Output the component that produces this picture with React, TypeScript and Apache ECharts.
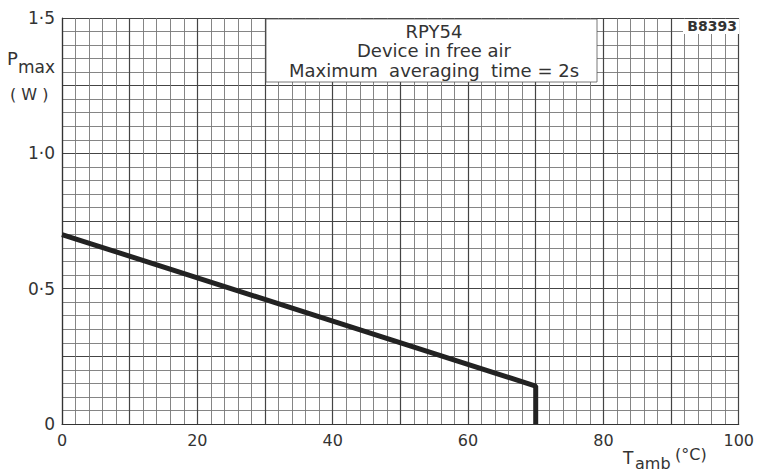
import React, { useEffect, useRef } from "react";
import * as echarts from "echarts";

const lineX = [0, 70, 70];
const lineY = [0.7, 0.14, 0];
const yTickLabels: Record<string, string> = { "0": "0", "0.5": "0·5", "1": "1·0", "1.5": "1·5" };
const titleLines = ["RPY54", "Device in free air", "Maximum  averaging  time = 2s"];
const figCode = "B8393";

const FONT = "DejaVu Sans";

export default function App() {
  const ref = useRef<HTMLDivElement>(null);
  useEffect(() => {
    const chart = echarts.init(ref.current!, null, { renderer: "svg" });
    const data = lineX.map((x, i) => [x, lineY[i]]);
    chart.setOption({
      animation: false,
      backgroundColor: "#fff",
      grid: { left: 62, right: 18, top: 18, bottom: 48 },
      xAxis: {
        type: "value",
        min: 0,
        max: 100,
        interval: 10,
        axisLine: { show: true, onZero: false, lineStyle: { color: "#333", width: 1.2 } },
        axisTick: { show: false },
        axisLabel: {
          color: "#333",
          fontFamily: FONT,
          fontSize: 16,
          margin: 8,
          formatter: (v: number) => (v % 20 === 0 ? String(v) : ""),
        },
        splitLine: { show: true, lineStyle: { color: "#444", width: 1.2 } },
        minorTick: { show: false, splitNumber: 5 },
        minorSplitLine: { show: true, lineStyle: { color: "#777", width: 0.9 } },
      },
      yAxis: {
        type: "value",
        min: 0,
        max: 1.5,
        interval: 0.25,
        axisLine: { show: true, onZero: false, lineStyle: { color: "#333", width: 1.2 } },
        axisTick: { show: false },
        axisLabel: {
          color: "#333",
          fontFamily: FONT,
          fontSize: 17,
          margin: 7,
          formatter: (v: number) => yTickLabels[String(v)] ?? "",
        },
        splitLine: { show: true, lineStyle: { color: "#444", width: 1.2 } },
        minorTick: { show: false, splitNumber: 5 },
        minorSplitLine: { show: true, lineStyle: { color: "#777", width: 0.9 } },
      },
      series: [
        {
          type: "line",
          data,
          showSymbol: false,
          symbol: "none",
          lineStyle: { color: "#222", width: 5 },
          z: 5,
        },
      ],
      graphic: [
        {
          type: "rect",
          z: 100,
          shape: { x: 266, y: 19, width: 331, height: 63 },
          style: { fill: "#fff", stroke: "#555", lineWidth: 0.8 },
        },
        ...titleLines.map((t, i) => ({
          type: "text",
          z: 101,
          x: 434,
          y: 31 + i * 19.5,
          style: {
            text: t,
            fill: "#333",
            font: `18px "${FONT}"`,
            textAlign: "center",
            textVerticalAlign: "middle",
          },
        })),
        {
          type: "rect",
          z: 100,
          shape: { x: 683, y: 19, width: 56, height: 15 },
          style: { fill: "#fff" },
        },
        {
          type: "text",
          z: 101,
          x: 737,
          y: 26,
          style: {
            text: figCode,
            fill: "#333",
            font: `bold 14px "${FONT}"`,
            textAlign: "right",
            textVerticalAlign: "middle",
          },
        },
        {
          type: "text",
          x: 7,
          y: 58,
          style: { text: "P", fill: "#333", font: `18px "${FONT}"`, textVerticalAlign: "middle" },
        },
        {
          type: "text",
          x: 18,
          y: 67,
          style: { text: "max", fill: "#333", font: `17px "${FONT}"`, textVerticalAlign: "middle" },
        },
        {
          type: "text",
          x: 10,
          y: 94,
          style: { text: "( W )", fill: "#333", font: `16px "${FONT}"`, textVerticalAlign: "middle" },
        },
        {
          type: "text",
          x: 623,
          y: 458,
          style: { text: "T", fill: "#333", font: `17px "${FONT}"`, textVerticalAlign: "middle" },
        },
        {
          type: "text",
          x: 635,
          y: 463,
          style: { text: "amb", fill: "#333", font: `16px "${FONT}"`, textVerticalAlign: "middle" },
        },
        {
          type: "text",
          x: 675,
          y: 454,
          style: { text: "(°C)", fill: "#333", font: `16px "${FONT}"`, textVerticalAlign: "middle" },
        },
      ],
    });
    return () => chart.dispose();
  }, []);
  return (
    <div
      ref={ref}
      style={{ position: "fixed", left: 0, top: 0, width: 757, height: 472 }}
    />
  );
}
